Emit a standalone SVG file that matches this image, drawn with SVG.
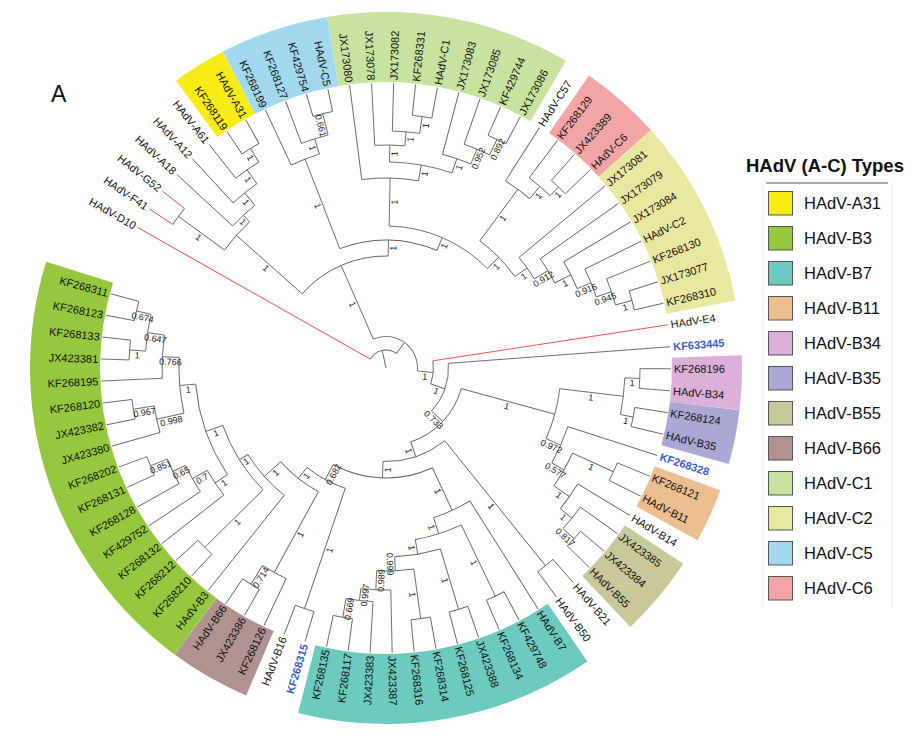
<svg xmlns="http://www.w3.org/2000/svg" width="920" height="739" viewBox="0 0 920 739">
<style>
.br{fill:none;stroke:#626262;stroke-width:0.9}
.red{stroke:#ee4a4a}
.tp{font-family:"Liberation Sans",Arial,sans-serif;font-size:11px;fill:#111}
.l{text-anchor:end}
.blue{fill:#3b5cc4;font-weight:bold}
.bs{font-family:"Liberation Sans",Arial,sans-serif;font-size:9px;fill:#222;text-anchor:middle}
.lg{font-family:"Liberation Sans",Arial,sans-serif;font-size:16.5px;fill:#111}
.sw{stroke:#555;stroke-width:1}
</style>
<rect width="920" height="739" fill="#fff"/>
<text x="51" y="102" font-family="Liberation Sans,Arial,sans-serif" font-size="23" fill="#111">A</text>
<g id="bands" transform="translate(386,368)" fill="none" stroke-width="70">
<circle r="321" transform="rotate(233.86)" stroke="#f7ec13" stroke-dasharray="49.64 3000"/>
<circle r="321" transform="rotate(242.74)" stroke="#a3d9ef" stroke-dasharray="99.28 3000"/>
<circle r="321" transform="rotate(260.46)" stroke="#c8e2a0" stroke-dasharray="223.43 3000"/>
<circle r="321" transform="rotate(304.77)" stroke="#f2a5a6" stroke-dasharray="74.46 3000"/>
<circle r="321" transform="rotate(318.06)" stroke="#e9e8a1" stroke-dasharray="173.73 3000"/>
<circle r="321" transform="rotate(357.94)" stroke="#dcb0d8" stroke-dasharray="49.64 3000"/>
<circle r="321" transform="rotate(366.80)" stroke="#aba8d6" stroke-dasharray="49.64 3000"/>
<circle r="321" transform="rotate(380.09)" stroke="#edbe90" stroke-dasharray="49.64 3000"/>
<circle r="321" transform="rotate(393.38)" stroke="#c8c89a" stroke-dasharray="74.46 3000"/>
<circle r="321" transform="rotate(415.54)" stroke="#6ccabe" stroke-dasharray="273.01 3000"/>
<circle r="321" transform="rotate(473.13)" stroke="#b09290" stroke-dasharray="74.51 3000"/>
<circle r="321" transform="rotate(486.43)" stroke="#95c83e" stroke-dasharray="397.1 3000"/>
</g>
<g id="connectors" transform="translate(386,368)" class="br">
<circle r="258" transform="rotate(236.08)" stroke-dasharray="19.99 3000"/>
<circle r="242" transform="rotate(231.65)" stroke-dasharray="28.09 3000"/>
<circle r="225" transform="rotate(227.22)" stroke-dasharray="30.45 3000"/>
<circle r="209" transform="rotate(222.79)" stroke-dasharray="30.31 3000"/>
<circle r="257" transform="rotate(213.93)" stroke-dasharray="19.87 3000"/>
<circle r="200" transform="rotate(216.145)" stroke-dasharray="37.70 3000"/>
<circle r="112" transform="rotate(221.545)" stroke-dasharray="96.89 3000"/>
<circle r="262" transform="rotate(253.81)" stroke-dasharray="20.26 3000"/>
<circle r="240" transform="rotate(249.38)" stroke-dasharray="27.83 3000"/>
<circle r="224" transform="rotate(244.95)" stroke-dasharray="30.30 3000"/>
<circle r="254" transform="rotate(275.96)" stroke-dasharray="19.64 3000"/>
<circle r="237" transform="rotate(271.53)" stroke-dasharray="27.49 3000"/>
<circle r="223" transform="rotate(267.10)" stroke-dasharray="30.16 3000"/>
<circle r="254" transform="rotate(293.69)" stroke-dasharray="19.64 3000"/>
<circle r="237" transform="rotate(289.25)" stroke-dasharray="27.53 3000"/>
<circle r="221" transform="rotate(284.82)" stroke-dasharray="29.93 3000"/>
<circle r="206" transform="rotate(270.975)" stroke-dasharray="63.73 3000"/>
<circle r="190" transform="rotate(262.67)" stroke-dasharray="56.94 3000"/>
<circle r="250" transform="rotate(311.41)" stroke-dasharray="19.33 3000"/>
<circle r="238" transform="rotate(306.98)" stroke-dasharray="27.60 3000"/>
<circle r="222" transform="rotate(302.55)" stroke-dasharray="30.03 3000"/>
<circle r="255" transform="rotate(342.42)" stroke-dasharray="19.72 3000"/>
<circle r="238" transform="rotate(337.99)" stroke-dasharray="27.60 3000"/>
<circle r="222" transform="rotate(333.56)" stroke-dasharray="30.03 3000"/>
<circle r="207" transform="rotate(329.13)" stroke-dasharray="30.00 3000"/>
<circle r="189" transform="rotate(324.70)" stroke-dasharray="28.30 3000"/>
<circle r="173" transform="rotate(320.27)" stroke-dasharray="26.33 3000"/>
<circle r="158" transform="rotate(306.425)" stroke-dasharray="50.20 3000"/>
<circle r="142" transform="rotate(271.255)" stroke-dasharray="109.73 3000"/>
<circle r="128" transform="rotate(248.825)" stroke-dasharray="99.56 3000"/>
<circle r="18" transform="rotate(209.5)" stroke-dasharray="30.28 3000"/>
<circle r="31.5" transform="rotate(246.33)" stroke-dasharray="65.47 3000"/>
<circle r="47.5" transform="rotate(351.29)" stroke-dasharray="23.43 3000"/>
<circle r="62.5" transform="rotate(355.72)" stroke-dasharray="51.99 3000"/>
<circle r="78" transform="rotate(375.31)" stroke-dasharray="76.44 3000"/>
<circle r="254" transform="rotate(360.15)" stroke-dasharray="19.64 3000"/>
<circle r="252" transform="rotate(369.01)" stroke-dasharray="19.48 3000"/>
<circle r="239" transform="rotate(362.365)" stroke-dasharray="36.96 3000"/>
<circle r="250" transform="rotate(382.30)" stroke-dasharray="19.33 3000"/>
<circle r="254" transform="rotate(400.02)" stroke-dasharray="19.68 3000"/>
<circle r="239" transform="rotate(395.59)" stroke-dasharray="27.74 3000"/>
<circle r="224" transform="rotate(391.16)" stroke-dasharray="30.32 3000"/>
<circle r="205" transform="rotate(384.515)" stroke-dasharray="37.66 3000"/>
<circle r="191" transform="rotate(377.87)" stroke-dasharray="39.70 3000"/>
<circle r="175" transform="rotate(366.795)" stroke-dasharray="52.02 3000"/>
<circle r="254" transform="rotate(408.89)" stroke-dasharray="19.64 3000"/>
<circle r="253" transform="rotate(422.18)" stroke-dasharray="19.56 3000"/>
<circle r="252" transform="rotate(431.04)" stroke-dasharray="19.48 3000"/>
<circle r="253" transform="rotate(439.90)" stroke-dasharray="19.56 3000"/>
<circle r="253" transform="rotate(457.62)" stroke-dasharray="19.56 3000"/>
<circle r="234" transform="rotate(453.19)" stroke-dasharray="27.14 3000"/>
<circle r="222" transform="rotate(448.76)" stroke-dasharray="30.03 3000"/>
<circle r="203" transform="rotate(442.115)" stroke-dasharray="37.27 3000"/>
<circle r="189" transform="rotate(433.255)" stroke-dasharray="46.58 3000"/>
<circle r="174" transform="rotate(424.395)" stroke-dasharray="48.35 3000"/>
<circle r="157" transform="rotate(417.75)" stroke-dasharray="40.02 3000"/>
<circle r="254" transform="rotate(466.48)" stroke-dasharray="19.64 3000"/>
<circle r="255" transform="rotate(479.78)" stroke-dasharray="19.72 3000"/>
<circle r="233" transform="rotate(475.35)" stroke-dasharray="27.02 3000"/>
<circle r="255" transform="rotate(493.07)" stroke-dasharray="19.72 3000"/>
<circle r="255" transform="rotate(515.22)" stroke-dasharray="19.72 3000"/>
<circle r="237" transform="rotate(510.79)" stroke-dasharray="27.49 3000"/>
<circle r="223" transform="rotate(506.36)" stroke-dasharray="30.16 3000"/>
<circle r="206" transform="rotate(501.93)" stroke-dasharray="29.86 3000"/>
<circle r="256" transform="rotate(550.66)" stroke-dasharray="19.79 3000"/>
<circle r="257" transform="rotate(541.80)" stroke-dasharray="19.87 3000"/>
<circle r="241" transform="rotate(544.015)" stroke-dasharray="37.27 3000"/>
<circle r="224" transform="rotate(537.37)" stroke-dasharray="43.30 3000"/>
<circle r="256" transform="rotate(528.51)" stroke-dasharray="19.79 3000"/>
<circle r="235" transform="rotate(524.08)" stroke-dasharray="27.26 3000"/>
<circle r="207" transform="rotate(527.40)" stroke-dasharray="56.04 3000"/>
<circle r="191" transform="rotate(506.08)" stroke-dasharray="96.92 3000"/>
<circle r="173" transform="rotate(495.285)" stroke-dasharray="76.50 3000"/>
<circle r="163" transform="rotate(488.64)" stroke-dasharray="54.93 3000"/>
<circle r="141" transform="rotate(478.67)" stroke-dasharray="48.31 3000"/>
<circle r="127" transform="rotate(468.695)" stroke-dasharray="43.87 3000"/>
<circle r="110" transform="rotate(425.05)" stroke-dasharray="102.79 3000"/>
<circle r="93.5" transform="rotate(411.105)" stroke-dasharray="66.44 3000"/>
<line x1="0" x2="18" transform="rotate(257.69)"/>
<line x1="242" x2="258" transform="rotate(238.30)"/>
<line x1="225" x2="242" transform="rotate(234.975)"/>
<line x1="209" x2="225" transform="rotate(231.10)"/>
<line x1="200" x2="209" transform="rotate(226.945)"/>
<line x1="200" x2="257" transform="rotate(216.145)"/>
<line x1="112" x2="200" transform="rotate(221.545)"/>
<line x1="112" x2="128" transform="rotate(271.11)"/>
<line x1="31.5" x2="112" transform="rotate(246.33)"/>
<line x1="240" x2="262" transform="rotate(256.025)"/>
<line x1="224" x2="240" transform="rotate(252.70)"/>
<line x1="128" x2="224" transform="rotate(248.825)"/>
<line x1="128" x2="142" transform="rotate(293.39)"/>
<line x1="142" x2="190" transform="rotate(271.255)"/>
<line x1="142" x2="158" transform="rotate(315.53)"/>
<line x1="190" x2="206" transform="rotate(279.84)"/>
<line x1="206" x2="223" transform="rotate(270.975)"/>
<line x1="223" x2="237" transform="rotate(274.85)"/>
<line x1="237" x2="254" transform="rotate(278.175)"/>
<line x1="206" x2="221" transform="rotate(288.70)"/>
<line x1="221" x2="237" transform="rotate(292.58)"/>
<line x1="237" x2="254" transform="rotate(295.905)"/>
<line x1="158" x2="222" transform="rotate(306.425)"/>
<line x1="222" x2="238" transform="rotate(310.30)"/>
<line x1="238" x2="250" transform="rotate(313.625)"/>
<line x1="158" x2="173" transform="rotate(324.63)"/>
<line x1="173" x2="189" transform="rotate(328.99)"/>
<line x1="189" x2="207" transform="rotate(333.28)"/>
<line x1="207" x2="222" transform="rotate(337.435)"/>
<line x1="222" x2="238" transform="rotate(341.31)"/>
<line x1="238" x2="255" transform="rotate(344.635)"/>
<line x1="18" x2="31.5" transform="rotate(305.875)"/>
<line x1="31.5" x2="47.5" transform="rotate(365.42)"/>
<line x1="47.5" x2="62.5" transform="rotate(379.55)"/>
<line x1="62.5" x2="78" transform="rotate(403.385)"/>
<line x1="78" x2="175" transform="rotate(375.31)"/>
<line x1="78" x2="93.5" transform="rotate(431.46)"/>
<line x1="175" x2="239" transform="rotate(366.795)"/>
<line x1="239" x2="254" transform="rotate(362.365)"/>
<line x1="239" x2="252" transform="rotate(371.225)"/>
<line x1="175" x2="191" transform="rotate(383.825)"/>
<line x1="191" x2="205" transform="rotate(389.78)"/>
<line x1="205" x2="250" transform="rotate(384.515)"/>
<line x1="205" x2="224" transform="rotate(395.04)"/>
<line x1="224" x2="239" transform="rotate(398.915)"/>
<line x1="239" x2="254" transform="rotate(402.24)"/>
<line x1="93.5" x2="254" transform="rotate(411.105)"/>
<line x1="93.5" x2="110" transform="rotate(451.82)"/>
<line x1="110" x2="157" transform="rotate(425.05)"/>
<line x1="157" x2="174" transform="rotate(432.355)"/>
<line x1="174" x2="253" transform="rotate(424.395)"/>
<line x1="174" x2="189" transform="rotate(440.315)"/>
<line x1="189" x2="252" transform="rotate(433.255)"/>
<line x1="189" x2="203" transform="rotate(447.375)"/>
<line x1="203" x2="253" transform="rotate(442.115)"/>
<line x1="203" x2="222" transform="rotate(452.635)"/>
<line x1="222" x2="234" transform="rotate(456.51)"/>
<line x1="234" x2="253" transform="rotate(459.835)"/>
<line x1="110" x2="127" transform="rotate(478.59)"/>
<line x1="127" x2="254" transform="rotate(468.695)"/>
<line x1="127" x2="141" transform="rotate(488.485)"/>
<line x1="141" x2="233" transform="rotate(478.67)"/>
<line x1="233" x2="255" transform="rotate(481.995)"/>
<line x1="141" x2="163" transform="rotate(498.30)"/>
<line x1="163" x2="173" transform="rotate(507.95)"/>
<line x1="173" x2="255" transform="rotate(495.285)"/>
<line x1="173" x2="191" transform="rotate(520.62)"/>
<line x1="191" x2="206" transform="rotate(506.08)"/>
<line x1="206" x2="223" transform="rotate(510.235)"/>
<line x1="223" x2="237" transform="rotate(514.11)"/>
<line x1="237" x2="255" transform="rotate(517.435)"/>
<line x1="191" x2="207" transform="rotate(535.155)"/>
<line x1="207" x2="235" transform="rotate(527.40)"/>
<line x1="235" x2="256" transform="rotate(530.725)"/>
<line x1="207" x2="224" transform="rotate(542.91)"/>
<line x1="224" x2="241" transform="rotate(548.445)"/>
<line x1="241" x2="257" transform="rotate(544.015)"/>
<line x1="241" x2="256" transform="rotate(552.875)"/>
<line class="red" x1="18" x2="285" transform="rotate(209.5)"/>
<line class="red" x1="257" x2="285" transform="rotate(213.93)"/>
<line class="red" x1="257" x2="285" transform="rotate(218.36)"/>
<line x1="209" x2="285" transform="rotate(222.79)"/>
<line x1="225" x2="285" transform="rotate(227.22)"/>
<line x1="242" x2="285" transform="rotate(231.65)"/>
<line x1="258" x2="285" transform="rotate(236.08)"/>
<line x1="258" x2="285" transform="rotate(240.52)"/>
<line x1="224" x2="285" transform="rotate(244.95)"/>
<line x1="240" x2="285" transform="rotate(249.38)"/>
<line x1="262" x2="285" transform="rotate(253.81)"/>
<line x1="262" x2="285" transform="rotate(258.24)"/>
<line x1="190" x2="285" transform="rotate(262.67)"/>
<line x1="223" x2="285" transform="rotate(267.10)"/>
<line x1="237" x2="285" transform="rotate(271.53)"/>
<line x1="254" x2="285" transform="rotate(275.96)"/>
<line x1="254" x2="285" transform="rotate(280.39)"/>
<line x1="221" x2="285" transform="rotate(284.82)"/>
<line x1="237" x2="285" transform="rotate(289.25)"/>
<line x1="254" x2="285" transform="rotate(293.69)"/>
<line x1="254" x2="285" transform="rotate(298.12)"/>
<line x1="222" x2="285" transform="rotate(302.55)"/>
<line x1="238" x2="285" transform="rotate(306.98)"/>
<line x1="250" x2="285" transform="rotate(311.41)"/>
<line x1="250" x2="285" transform="rotate(315.84)"/>
<line x1="173" x2="285" transform="rotate(320.27)"/>
<line x1="189" x2="285" transform="rotate(324.70)"/>
<line x1="207" x2="285" transform="rotate(329.13)"/>
<line x1="222" x2="285" transform="rotate(333.56)"/>
<line x1="238" x2="285" transform="rotate(337.99)"/>
<line x1="255" x2="285" transform="rotate(342.42)"/>
<line x1="255" x2="285" transform="rotate(346.85)"/>
<line class="red" x1="47.5" x2="285" transform="rotate(351.29)"/>
<line x1="62.5" x2="285" transform="rotate(355.72)"/>
<line x1="254" x2="285" transform="rotate(360.15)"/>
<line x1="254" x2="285" transform="rotate(364.58)"/>
<line x1="252" x2="285" transform="rotate(369.01)"/>
<line x1="252" x2="285" transform="rotate(373.44)"/>
<line x1="191" x2="285" transform="rotate(377.87)"/>
<line x1="250" x2="285" transform="rotate(382.30)"/>
<line x1="250" x2="285" transform="rotate(386.73)"/>
<line x1="224" x2="285" transform="rotate(391.16)"/>
<line x1="239" x2="285" transform="rotate(395.59)"/>
<line x1="254" x2="285" transform="rotate(400.02)"/>
<line x1="254" x2="285" transform="rotate(404.46)"/>
<line x1="254" x2="285" transform="rotate(408.89)"/>
<line x1="254" x2="285" transform="rotate(413.32)"/>
<line x1="157" x2="285" transform="rotate(417.75)"/>
<line x1="253" x2="285" transform="rotate(422.18)"/>
<line x1="253" x2="285" transform="rotate(426.61)"/>
<line x1="252" x2="285" transform="rotate(431.04)"/>
<line x1="252" x2="285" transform="rotate(435.47)"/>
<line x1="253" x2="285" transform="rotate(439.90)"/>
<line x1="253" x2="285" transform="rotate(444.33)"/>
<line x1="222" x2="285" transform="rotate(448.76)"/>
<line x1="234" x2="285" transform="rotate(453.19)"/>
<line x1="253" x2="285" transform="rotate(457.62)"/>
<line x1="253" x2="285" transform="rotate(462.05)"/>
<line x1="254" x2="285" transform="rotate(466.48)"/>
<line x1="254" x2="285" transform="rotate(470.91)"/>
<line x1="233" x2="285" transform="rotate(475.35)"/>
<line x1="255" x2="285" transform="rotate(479.78)"/>
<line x1="255" x2="285" transform="rotate(484.21)"/>
<line x1="163" x2="285" transform="rotate(488.64)"/>
<line x1="255" x2="285" transform="rotate(493.07)"/>
<line x1="255" x2="285" transform="rotate(497.50)"/>
<line x1="206" x2="285" transform="rotate(501.93)"/>
<line x1="223" x2="285" transform="rotate(506.36)"/>
<line x1="237" x2="285" transform="rotate(510.79)"/>
<line x1="255" x2="285" transform="rotate(515.22)"/>
<line x1="255" x2="285" transform="rotate(519.65)"/>
<line x1="235" x2="285" transform="rotate(524.08)"/>
<line x1="256" x2="285" transform="rotate(528.51)"/>
<line x1="256" x2="285" transform="rotate(532.94)"/>
<line x1="224" x2="285" transform="rotate(537.37)"/>
<line x1="257" x2="285" transform="rotate(541.80)"/>
<line x1="257" x2="285" transform="rotate(546.23)"/>
<line x1="256" x2="285" transform="rotate(550.66)"/>
<line x1="256" x2="285" transform="rotate(555.09)"/>
</g>
<g id="support" transform="translate(386,368)" class="bs">
<text transform="rotate(58.30)" x="-250" y="8">1</text>
<text transform="rotate(54.975)" x="-233.5" y="8">1</text>
<text transform="rotate(51.10)" x="-217" y="8">1</text>
<text transform="rotate(46.945)" x="-204.5" y="8">1</text>
<text transform="rotate(36.145)" x="-228.5" y="8">1</text>
<text transform="rotate(41.545)" x="-156" y="8">1</text>
<text transform="rotate(66.33)" x="-71.75" y="8">1</text>
<text transform="rotate(76.025)" x="-251" y="8">0.661</text>
<text transform="rotate(72.70)" x="-232" y="8">1</text>
<text transform="rotate(68.825)" x="-176" y="8">1</text>
<text transform="rotate(271.82)" x="-101.75" y="8">1</text>
<text transform="rotate(298.59)" x="-118.5" y="8">0.682</text>
<text transform="rotate(288.695)" x="-190.5" y="8">1</text>
<text transform="rotate(308.485)" x="-134" y="8">1</text>
<text transform="rotate(298.67)" x="-187" y="8">1</text>
<text transform="rotate(301.995)" x="-244" y="8">0.714</text>
<text transform="rotate(318.30)" x="-152" y="8">1</text>
<text transform="rotate(327.95)" x="-168" y="8">1</text>
<text transform="rotate(315.285)" x="-214" y="8">1</text>
<text transform="rotate(340.62)" x="-182" y="8">1</text>
<text transform="rotate(326.08)" x="-198.5" y="8">1</text>
<text transform="rotate(330.235)" x="-214.5" y="8">0.7</text>
<text transform="rotate(334.11)" x="-230" y="8">0.65</text>
<text transform="rotate(337.435)" x="-246" y="8">0.851</text>
<text transform="rotate(355.155)" x="-199" y="8">1</text>
<text transform="rotate(347.40)" x="-221" y="8">0.998</text>
<text transform="rotate(350.725)" x="-245.5" y="8">0.967</text>
<text transform="rotate(2.91)" x="-215.5" y="8">0.766</text>
<text transform="rotate(8.445)" x="-232.5" y="8">0.647</text>
<text transform="rotate(4.015)" x="-249" y="8">1</text>
<text transform="rotate(12.875)" x="-248.5" y="8">0.674</text>
<text transform="rotate(272.635)" x="-212.5" y="8">0.989</text>
<text transform="rotate(276.51)" x="-228" y="8">0.997</text>
<text transform="rotate(279.835)" x="-243.5" y="8">0.669</text>
<text transform="rotate(271.11)" x="120" y="8">1</text>
<text transform="rotate(293.39)" x="135" y="8">1</text>
<text transform="rotate(271.255)" x="166" y="8">1</text>
<text transform="rotate(315.53)" x="150" y="8">1</text>
<text transform="rotate(279.84)" x="198" y="8">1</text>
<text transform="rotate(270.975)" x="214.5" y="8">1</text>
<text transform="rotate(274.85)" x="230" y="8">1</text>
<text transform="rotate(278.175)" x="245.5" y="8">1</text>
<text transform="rotate(288.70)" x="213.5" y="8">1</text>
<text transform="rotate(292.58)" x="229" y="8">0.952</text>
<text transform="rotate(295.905)" x="245.5" y="8">0.892</text>
<text transform="rotate(306.425)" x="190" y="8">1</text>
<text transform="rotate(310.30)" x="230" y="8">1</text>
<text transform="rotate(313.625)" x="244" y="8">1</text>
<text transform="rotate(324.63)" x="165.5" y="8">1</text>
<text transform="rotate(328.99)" x="181" y="8">0.912</text>
<text transform="rotate(333.28)" x="198" y="8">1</text>
<text transform="rotate(337.435)" x="214.5" y="8">0.916</text>
<text transform="rotate(341.31)" x="230" y="8">0.945</text>
<text transform="rotate(344.635)" x="246.5" y="8">1</text>
<text transform="rotate(5.42)" x="39.5" y="8">1</text>
<text transform="rotate(19.55)" x="55" y="8">1</text>
<text transform="rotate(43.385)" x="70.25" y="8">0.733</text>
<text transform="rotate(15.31)" x="126.5" y="8">1</text>
<text transform="rotate(71.46)" x="85.75" y="8">1</text>
<text transform="rotate(6.795)" x="207" y="8">1</text>
<text transform="rotate(2.365)" x="246.5" y="8">1</text>
<text transform="rotate(11.225)" x="245.5" y="8">1</text>
<text transform="rotate(23.825)" x="183" y="8">0.972</text>
<text transform="rotate(29.78)" x="198" y="8">0.577</text>
<text transform="rotate(24.515)" x="227.5" y="8">1</text>
<text transform="rotate(35.04)" x="214.5" y="8">1</text>
<text transform="rotate(38.915)" x="231.5" y="8">1</text>
<text transform="rotate(42.24)" x="246.5" y="8">0.817</text>
<text transform="rotate(51.105)" x="173.75" y="8">1</text>
<text transform="rotate(65.05)" x="133.5" y="8">1</text>
<text transform="rotate(72.355)" x="165.5" y="8">1</text>
<text transform="rotate(64.395)" x="213.5" y="8">1</text>
<text transform="rotate(80.315)" x="181.5" y="8">1</text>
<text transform="rotate(73.255)" x="220.5" y="8">1</text>
<text transform="rotate(87.375)" x="196" y="8">0.999</text>
<text transform="rotate(82.115)" x="228" y="8">1</text>
</g>
<g id="tips" transform="translate(386,368)" class="tp">
<g id="n-HAdV-D10"><text class="l" transform="rotate(29.5)" x="-288" y="4">HAdV-D10</text></g>
<g id="n-HAdV-F41"><text class="l" transform="rotate(33.93)" x="-288" y="4">HAdV-F41</text></g>
<g id="n-HAdV-G52"><text class="l" transform="rotate(38.36)" x="-288" y="4">HAdV-G52</text></g>
<g id="n-HAdV-A18"><text class="l" transform="rotate(42.79)" x="-288" y="4">HAdV-A18</text></g>
<g id="n-HAdV-A12"><text class="l" transform="rotate(47.22)" x="-288" y="4">HAdV-A12</text></g>
<g id="n-HAdV-A61"><text class="l" transform="rotate(51.65)" x="-288" y="4">HAdV-A61</text></g>
<g id="n-KF268119"><text class="l" transform="rotate(56.08)" x="-288" y="4">KF268119</text></g>
<g id="n-HAdV-A31"><text class="l" transform="rotate(60.52)" x="-288" y="4">HAdV-A31</text></g>
<g id="n-KF268199"><text class="l" transform="rotate(64.95)" x="-288" y="4">KF268199</text></g>
<g id="n-KF268127"><text class="l" transform="rotate(69.38)" x="-288" y="4">KF268127</text></g>
<g id="n-KF429754"><text class="l" transform="rotate(73.81)" x="-288" y="4">KF429754</text></g>
<g id="n-HAdV-C5"><text class="l" transform="rotate(78.24)" x="-288" y="4">HAdV-C5</text></g>
<g id="n-JX173080"><text class="l" transform="rotate(82.67)" x="-288" y="4">JX173080</text></g>
<g id="n-JX173078"><text class="l" transform="rotate(87.10)" x="-288" y="4">JX173078</text></g>
<g id="n-JX173082"><text transform="rotate(271.53)" x="288" y="4">JX173082</text></g>
<g id="n-KF268331"><text transform="rotate(275.96)" x="288" y="4">KF268331</text></g>
<g id="n-HAdV-C1"><text transform="rotate(280.39)" x="288" y="4">HAdV-C1</text></g>
<g id="n-JX173083"><text transform="rotate(284.82)" x="288" y="4">JX173083</text></g>
<g id="n-JX173085"><text transform="rotate(289.25)" x="288" y="4">JX173085</text></g>
<g id="n-KF429744"><text transform="rotate(293.69)" x="288" y="4">KF429744</text></g>
<g id="n-JX173086"><text transform="rotate(298.12)" x="288" y="4">JX173086</text></g>
<g id="n-HAdV-C57"><text transform="rotate(302.55)" x="288" y="4">HAdV-C57</text></g>
<g id="n-KF268129"><text transform="rotate(306.98)" x="288" y="4">KF268129</text></g>
<g id="n-JX423389"><text transform="rotate(311.41)" x="288" y="4">JX423389</text></g>
<g id="n-HAdV-C6"><text transform="rotate(315.84)" x="288" y="4">HAdV-C6</text></g>
<g id="n-JX173081"><text transform="rotate(320.27)" x="288" y="4">JX173081</text></g>
<g id="n-JX173079"><text transform="rotate(324.70)" x="288" y="4">JX173079</text></g>
<g id="n-JX173084"><text transform="rotate(329.13)" x="288" y="4">JX173084</text></g>
<g id="n-HAdV-C2"><text transform="rotate(333.56)" x="288" y="4">HAdV-C2</text></g>
<g id="n-KF268130"><text transform="rotate(337.99)" x="288" y="4">KF268130</text></g>
<g id="n-JX173077"><text transform="rotate(342.42)" x="288" y="4">JX173077</text></g>
<g id="n-KF268310"><text transform="rotate(346.85)" x="288" y="4">KF268310</text></g>
<g id="n-HAdV-E4"><text transform="rotate(351.29)" x="288" y="4">HAdV-E4</text></g>
<g id="n-KF633445"><text class="blue" transform="rotate(355.72)" x="288" y="4">KF633445</text></g>
<g id="n-KF268196"><text transform="rotate(0.15)" x="288" y="4">KF268196</text></g>
<g id="n-HAdV-B34"><text transform="rotate(4.58)" x="288" y="4">HAdV-B34</text></g>
<g id="n-KF268124"><text transform="rotate(9.01)" x="288" y="4">KF268124</text></g>
<g id="n-HAdV-B35"><text transform="rotate(13.44)" x="288" y="4">HAdV-B35</text></g>
<g id="n-KF268328"><text class="blue" transform="rotate(17.87)" x="288" y="4">KF268328</text></g>
<g id="n-KF268121"><text transform="rotate(22.30)" x="288" y="4">KF268121</text></g>
<g id="n-HAdV-B11"><text transform="rotate(26.73)" x="288" y="4">HAdV-B11</text></g>
<g id="n-HAdV-B14"><text transform="rotate(31.16)" x="288" y="4">HAdV-B14</text></g>
<g id="n-JX423385"><text transform="rotate(35.59)" x="288" y="4">JX423385</text></g>
<g id="n-JX423384"><text transform="rotate(40.02)" x="288" y="4">JX423384</text></g>
<g id="n-HAdV-B55"><text transform="rotate(44.46)" x="288" y="4">HAdV-B55</text></g>
<g id="n-HAdV-B21"><text transform="rotate(48.89)" x="288" y="4">HAdV-B21</text></g>
<g id="n-HAdV-B50"><text transform="rotate(53.32)" x="288" y="4">HAdV-B50</text></g>
<g id="n-HAdV-B7"><text transform="rotate(57.75)" x="288" y="4">HAdV-B7</text></g>
<g id="n-KF429748"><text transform="rotate(62.18)" x="288" y="4">KF429748</text></g>
<g id="n-KF268134"><text transform="rotate(66.61)" x="288" y="4">KF268134</text></g>
<g id="n-JX423388"><text transform="rotate(71.04)" x="288" y="4">JX423388</text></g>
<g id="n-KF268125"><text transform="rotate(75.47)" x="288" y="4">KF268125</text></g>
<g id="n-KF268314"><text transform="rotate(79.90)" x="288" y="4">KF268314</text></g>
<g id="n-KF268316"><text transform="rotate(84.33)" x="288" y="4">KF268316</text></g>
<g id="n-JX423387"><text transform="rotate(88.76)" x="288" y="4">JX423387</text></g>
<g id="n-JX423383"><text class="l" transform="rotate(273.19)" x="-288" y="4">JX423383</text></g>
<g id="n-KF268117"><text class="l" transform="rotate(277.62)" x="-288" y="4">KF268117</text></g>
<g id="n-KF268135"><text class="l" transform="rotate(282.05)" x="-288" y="4">KF268135</text></g>
<g id="n-KF268315"><text class="l blue" transform="rotate(286.48)" x="-288" y="4">KF268315</text></g>
<g id="n-HAdV-B16"><text class="l" transform="rotate(290.91)" x="-288" y="4">HAdV-B16</text></g>
<g id="n-KF268126"><text class="l" transform="rotate(295.35)" x="-288" y="4">KF268126</text></g>
<g id="n-JX423386"><text class="l" transform="rotate(299.78)" x="-288" y="4">JX423386</text></g>
<g id="n-HAdV-B66"><text class="l" transform="rotate(304.21)" x="-288" y="4">HAdV-B66</text></g>
<g id="n-HAdV-B3"><text class="l" transform="rotate(308.64)" x="-288" y="4">HAdV-B3</text></g>
<g id="n-KF268210"><text class="l" transform="rotate(313.07)" x="-288" y="4">KF268210</text></g>
<g id="n-KF268212"><text class="l" transform="rotate(317.50)" x="-288" y="4">KF268212</text></g>
<g id="n-KF268132"><text class="l" transform="rotate(321.93)" x="-288" y="4">KF268132</text></g>
<g id="n-KF429752"><text class="l" transform="rotate(326.36)" x="-288" y="4">KF429752</text></g>
<g id="n-KF268128"><text class="l" transform="rotate(330.79)" x="-288" y="4">KF268128</text></g>
<g id="n-KF268131"><text class="l" transform="rotate(335.22)" x="-288" y="4">KF268131</text></g>
<g id="n-KF268202"><text class="l" transform="rotate(339.65)" x="-288" y="4">KF268202</text></g>
<g id="n-JX423380"><text class="l" transform="rotate(344.08)" x="-288" y="4">JX423380</text></g>
<g id="n-JX423382"><text class="l" transform="rotate(348.51)" x="-288" y="4">JX423382</text></g>
<g id="n-KF268120"><text class="l" transform="rotate(352.94)" x="-288" y="4">KF268120</text></g>
<g id="n-KF268195"><text class="l" transform="rotate(357.37)" x="-288" y="4">KF268195</text></g>
<g id="n-JX423381"><text class="l" transform="rotate(1.80)" x="-288" y="4">JX423381</text></g>
<g id="n-KF268133"><text class="l" transform="rotate(6.23)" x="-288" y="4">KF268133</text></g>
<g id="n-KF268123"><text class="l" transform="rotate(10.66)" x="-288" y="4">KF268123</text></g>
<g id="n-KF268311"><text class="l" transform="rotate(15.09)" x="-288" y="4">KF268311</text></g>
</g>
<g id="legend">
<line x1="763" y1="183" x2="763" y2="607" stroke="#ececec"/>
<line x1="892" y1="183" x2="892" y2="607" stroke="#ececec"/>
<text x="746" y="172" font-family="Liberation Sans,Arial,sans-serif" font-size="18.5" font-weight="bold" fill="#111">HAdV (A-C) Types</text>
<line x1="766" y1="183" x2="888" y2="183" stroke="#555" stroke-width="1"/>
<g id="lg-A31"><rect class="sw" x="768.5" y="191.5" width="24" height="23.5" fill="#f7ec13"/><text class="lg" x="804" y="209">HAdV-A31</text></g>
<g id="lg-B3"><rect class="sw" x="768.5" y="226.5" width="24" height="23.5" fill="#95c83e"/><text class="lg" x="804" y="244">HAdV-B3</text></g>
<g id="lg-B7"><rect class="sw" x="768.5" y="261.5" width="24" height="23.5" fill="#6ccabe"/><text class="lg" x="804" y="279">HAdV-B7</text></g>
<g id="lg-B11"><rect class="sw" x="768.5" y="296.5" width="24" height="23.5" fill="#edbe90"/><text class="lg" x="804" y="314">HAdV-B11</text></g>
<g id="lg-B34"><rect class="sw" x="768.5" y="331.5" width="24" height="23.5" fill="#dcb0d8"/><text class="lg" x="804" y="349">HAdV-B34</text></g>
<g id="lg-B35"><rect class="sw" x="768.5" y="366.5" width="24" height="23.5" fill="#aba8d6"/><text class="lg" x="804" y="384">HAdV-B35</text></g>
<g id="lg-B55"><rect class="sw" x="768.5" y="401.5" width="24" height="23.5" fill="#c8c89a"/><text class="lg" x="804" y="419">HAdV-B55</text></g>
<g id="lg-B66"><rect class="sw" x="768.5" y="436.5" width="24" height="23.5" fill="#b09290"/><text class="lg" x="804" y="454">HAdV-B66</text></g>
<g id="lg-C1"><rect class="sw" x="768.5" y="471.5" width="24" height="23.5" fill="#c8e2a0"/><text class="lg" x="804" y="489">HAdV-C1</text></g>
<g id="lg-C2"><rect class="sw" x="768.5" y="506.5" width="24" height="23.5" fill="#e9e8a1"/><text class="lg" x="804" y="524">HAdV-C2</text></g>
<g id="lg-C5"><rect class="sw" x="768.5" y="541.5" width="24" height="23.5" fill="#a3d9ef"/><text class="lg" x="804" y="559">HAdV-C5</text></g>
<g id="lg-C6"><rect class="sw" x="768.5" y="576.5" width="24" height="23.5" fill="#f2a5a6"/><text class="lg" x="804" y="594">HAdV-C6</text></g>
</g>
</svg>
